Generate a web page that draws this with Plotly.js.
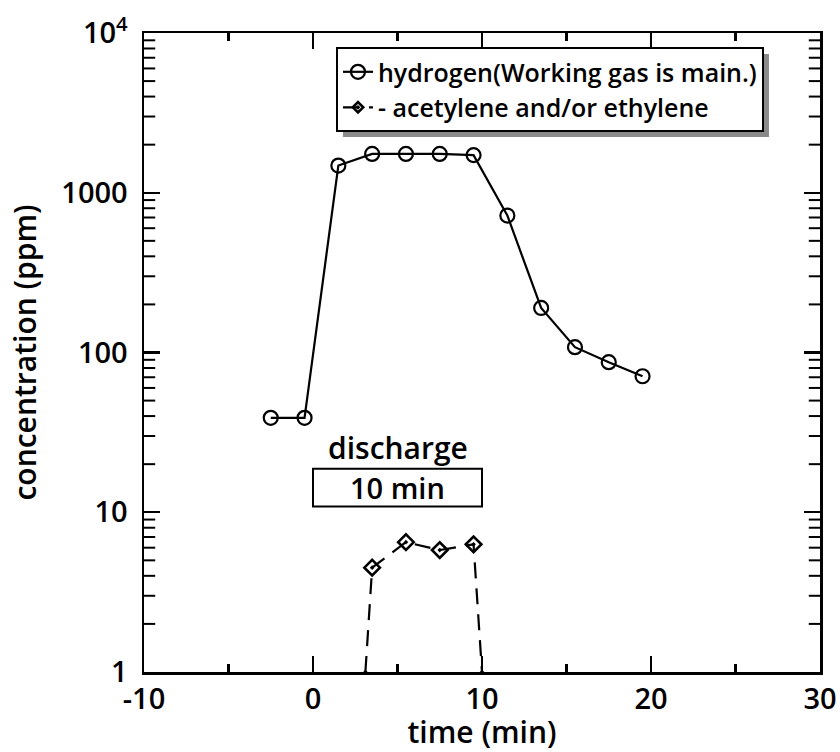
<!DOCTYPE html>
<html>
<head>
<meta charset="utf-8">
<script src="https://cdn.plot.ly/plotly-3.0.1.min.js"></script>
<style>html,body{margin:0;padding:0;background:#fff;}</style>
</head>
<body>
<div id="chart" style="width:840px;height:752px;"></div>
<script>
// hydrogen (Working gas is main.)
var h2Time = [-2.5, -0.5, 1.5, 3.5, 5.5, 7.5, 9.5, 11.5, 13.5, 15.5, 17.5, 19.5];
var h2Conc = [39, 39, 1480, 1750, 1750, 1750, 1720, 720, 190, 108, 87, 71];

// acetylene and/or ethylene (end points fall to the axis, no marker)
var c2Time = [3.1, 3.5, 5.5, 7.5, 9.5, 10.0];
var c2Conc = [1, 4.5, 6.5, 5.8, 6.3, 1];
var c2MarkerSize = [0, 12, 12, 12, 12, 0];

var xRange = [-10, 30];
var xTickVals = [-10, 0, 10, 20, 30];
var xTickText = ['-10', '0', '10', '20', '30'];
var yTickVals = [1, 10, 100, 1000, 10000];
var yTickText = ['1', '10', '100', '1000', '10<sup>4</sup>'];

// log sub-ticks 2..9 in every decade (axis decoration)
var yMinor = [];
for (var d = 1; d < 10000; d *= 10) { for (var k = 2; k <= 9; k++) yMinor.push(k * d); }
var minorX = [], minorY = [];
yMinor.forEach(function (v) { minorX.push(xRange[0]); minorY.push(v); minorX.push(xRange[1]); minorY.push(v); });

var FONT = 'Open Sans, Noto Sans, sans-serif';

var traces = [
  {
    x: h2Time, y: h2Conc, name: 'hydrogen(Working gas is main.)',
    mode: 'lines+markers', type: 'scatter',
    line: {color: '#000', width: 2.2},
    marker: {symbol: 'circle-open', size: 14, color: '#000', line: {width: 2.2, color: '#000'}}
  },
  {
    x: c2Time, y: c2Conc, name: '- acetylene and/or ethylene',
    mode: 'lines+markers', type: 'scatter',
    line: {color: '#000', width: 2.2, dash: '16px,10px'},
    marker: {symbol: 'diamond-open-dot', size: c2MarkerSize, color: '#000', opacity: 1, line: {width: 2.6, color: '#000'}}
  },
  // short inside sub-ticks on the left and right log axes (clipped to half length by the plot edge)
  {
    x: minorX, y: minorY, mode: 'markers', type: 'scatter', cliponaxis: true,
    marker: {symbol: 'line-ew', size: 16, color: '#000', line: {width: 2, color: '#000'}},
    showlegend: false, hoverinfo: 'skip'
  }
];

var layout = {
  width: 840, height: 752,
  margin: {l: 144, r: 20, t: 33, b: 80},
  paper_bgcolor: '#fff', plot_bgcolor: '#fff',
  font: {family: FONT, color: '#000', weight: 600},
  showlegend: true,
  legend: {
    x: 0.284, y: 0.978, xanchor: 'left', yanchor: 'top',
    bgcolor: '#fff', bordercolor: '#000', borderwidth: 2,
    font: {family: FONT, size: 25, color: '#000', weight: 600},
    tracegroupgap: 0, itemwidth: 30
  },
  xaxis: {
    range: xRange, tickvals: xTickVals, ticktext: xTickText,
    ticks: 'inside', ticklen: 16, tickwidth: 2.2, tickcolor: '#000',
    showline: true, linewidth: 2.5, linecolor: '#000', mirror: 'ticks',
    showgrid: false, zeroline: false,
    minor: {tickvals: [-5, 5, 15, 25], ticks: 'inside', ticklen: 8, tickwidth: 2.2, tickcolor: '#000', showgrid: false},
    tickfont: {family: FONT, size: 29, color: '#000', weight: 600},
    title: {text: 'time (min)', font: {family: FONT, size: 30, color: '#000', weight: 600}, standoff: 2}
  },
  yaxis: {
    type: 'log', range: [0, 4],
    tickmode: 'array', tickvals: yTickVals, ticktext: yTickText,
    ticks: 'inside', ticklen: 16, tickwidth: 2.2, tickcolor: '#000',
    showline: true, linewidth: 2.5, linecolor: '#000', mirror: 'ticks',
    showgrid: false, zeroline: false, ticklabelstandoff: 8,
    tickfont: {family: FONT, size: 29, color: '#000', weight: 600},
    title: {text: 'concentration (ppm)', font: {family: FONT, size: 30, color: '#000', weight: 600}, standoff: 16}
  },
  shapes: [
    {type: 'rect', xref: 'paper', yref: 'paper', x0: 0.292, x1: 0.982, y0: 0.858, y1: 0.970,
     fillcolor: '#8a8a8a', line: {width: 0}, layer: 'above'},
    {type: 'rect', xref: 'x', yref: 'paper', x0: 0, x1: 10, y0: 0.259, y1: 0.318,
     fillcolor: 'rgba(0,0,0,0)', line: {color: '#000', width: 2}}
  ],
  annotations: [
    {xref: 'x', yref: 'paper', x: 5, y: 0.352, text: 'discharge', showarrow: false,
     font: {family: FONT, size: 30, color: '#000', weight: 600}, yanchor: 'middle'},
    {xref: 'x', yref: 'paper', x: 5, y: 0.2885, text: '10 min', showarrow: false,
     font: {family: FONT, size: 29, color: '#000', weight: 600}, yanchor: 'middle'}
  ]
};

Plotly.newPlot('chart', traces, layout, {displayModeBar: false, staticPlot: true}).then(function (gd) {
  // place the grey drop-shadow just behind the legend box
  var bg = gd.querySelector('.legend .bg');
  var host = gd.querySelector('.main-svg').getBoundingClientRect();
  if (!bg) return;
  var r = bg.getBoundingClientRect();
  var fs = gd._fullLayout._size;
  var off = 6;
  var x0 = (r.left - host.left + off - fs.l) / fs.w;
  var x1 = (r.right - host.left + off - fs.l) / fs.w;
  var y1 = 1 - (r.top - host.top + off - fs.t) / fs.h;
  var y0 = 1 - (r.bottom - host.top + off - fs.t) / fs.h;
  return Plotly.relayout(gd, {'shapes[0].x0': x0, 'shapes[0].x1': x1, 'shapes[0].y0': y0, 'shapes[0].y1': y1});
});
</script>
</body>
</html>
